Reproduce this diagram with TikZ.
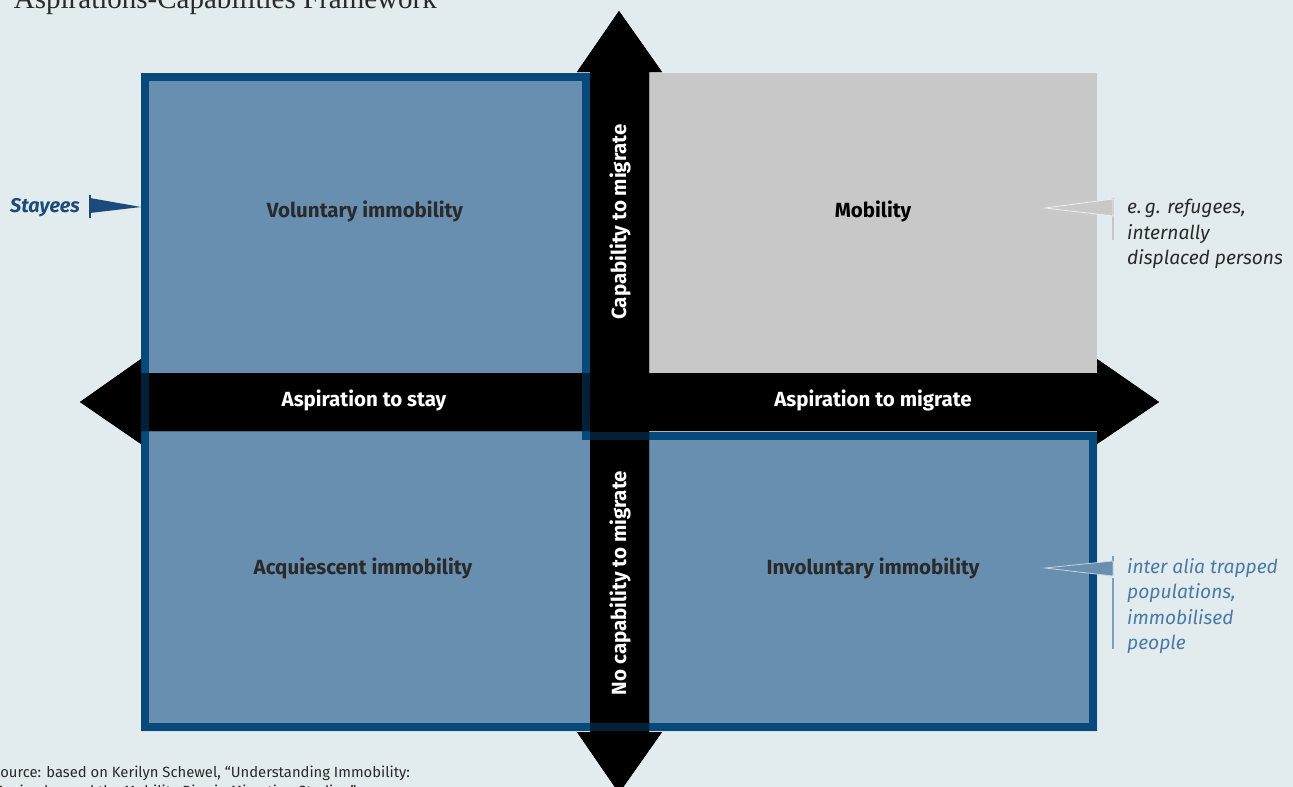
\documentclass[tikz,border=0pt]{standalone}
\usepackage{fontspec}
\setmainfont{Fira Sans}
\newfontfamily\titlefont{Liberation Serif}
\definecolor{bgcol}{HTML}{E2EBEE}
\definecolor{qblue}{HTML}{688FB0}
\definecolor{qline}{HTML}{08497B}
\definecolor{qgrey}{HTML}{C8C8C8}
\definecolor{txtdark}{HTML}{2A2A2A}
\definecolor{stayblue}{HTML}{1A4B7A}
\definecolor{steeltxt}{HTML}{4A7AA5}
\newcommand\harrowpath[1]{\path[#1] (80,402) -- (141,359) -- (141,373) -- (1097,373) -- (1097,359) -- (1159,402) -- (1097,444) -- (1097,431) -- (141,431) -- (141,444) -- cycle;}
\newcommand\varrowpath[1]{\path[#1] (619,11) -- (662,72) -- (649,72) -- (649,732) -- (662,732) -- (619,793) -- (577,732) -- (590,732) -- (590,72) -- (577,72) -- cycle;}
\newcommand\outlinepath[1]{\path[#1] (145,77) -- (586,77) -- (586,436) -- (1093,436) -- (1093,727) -- (145,727) -- cycle;}
\begin{document}
\begin{tikzpicture}[x=1pt,y=-1pt,
  quad/.style={font=\fontsize{20.5}{24}\selectfont\bfseries, text=txtdark},
  axis/.style={font=\fontsize{20.5}{24}\selectfont\bfseries, text=white},
  note/.style={font=\fontsize{19.2}{25.5}\selectfont\itshape, align=left, anchor=north west, inner sep=0pt}]
\useasboundingbox (0,0) rectangle (1293,787);
\fill[bgcol] (0,0) rectangle (1293,787);
% quadrant fills
\fill[qblue] (141,73) -- (590,73) -- (590,432) -- (1097,432) -- (1097,731) -- (141,731) -- cycle;
\fill[qgrey] (649,73) rectangle (1097,373);
% arrows
\harrowpath{fill=black}
\varrowpath{fill=black}
% outline
\outlinepath{draw=qline, line width=8pt, line join=miter}
\begin{scope}
  \harrowpath{clip}
  \fill[black] (0,0) rectangle (1293,787);
  \outlinepath{draw=qline, line width=8pt, opacity=0.45}
\end{scope}
\begin{scope}
  \varrowpath{clip}
  \fill[black] (0,0) rectangle (1293,787);
  \outlinepath{draw=qline, line width=8pt, opacity=0.45}
\end{scope}
% quadrant labels
\node[quad] (vol) at (365,211) {Voluntary immobility};
\node[quad, text=black] (mob) at (873,211) {Mobility};
\node[quad] (acq) at (363,568) {Acquiescent immobility};
\node[quad] (inv) at (873,568) {Involuntary immobility};
% axis labels
\node[axis] (stay) at (364,400) {Aspiration to stay};
\node[axis] (migr) at (873,400) {Aspiration to migrate};
\node[axis, rotate=90] (cap) at (620,222) {Capability to migrate};
\node[axis, rotate=90] (nocap) at (620,583) {No capability to migrate};
% Stayees flag
\node[font=\fontsize{19.8}{22}\selectfont\bfseries\itshape, text=stayblue, anchor=base west, inner sep=0pt] (stayees) at (10,212) {Stayees};
\draw[stayblue, line width=2pt] (90,195) -- (90,218);
\fill[stayblue] (90,198) -- (141,207) -- (90,213) -- cycle;
% grey flag
\draw[qgrey, line width=2.5pt] (1113,198) -- (1113,240);
\filldraw[fill=qgrey, draw=white!70!qgrey, line width=0.8pt] (1113,199) -- (1045,208) -- (1113,216) -- cycle;
\node[note, text=txtdark] (eg) at (1127,199) {e.\,g. refugees,\\internally\\displaced persons};
% blue flag
\draw[qblue!85!white, line width=2.5pt] (1113,556) -- (1113,561);
\draw[qblue!85!white, line width=2.5pt] (1113,578) -- (1113,649);
\filldraw[fill=qblue, draw=white!60!qblue, line width=0.8pt] (1113,561) -- (1045,568) -- (1113,576) -- cycle;
\node[note, text=steeltxt] (ia) at (1127,558) {inter alia trapped\\populations,\\immobilised\\people};
% title and source
\node[font=\fontsize{29}{32}\selectfont\titlefont, text=txtdark, anchor=base east, inner sep=0pt] (title) at (437,9) {Aspirations-Capabilities Framework};
\node[font=\fontsize{14.8}{19}\selectfont, text=txtdark, anchor=base west, inner sep=0pt, align=left] (src) at (-8,796) {Source: based on Kerilyn Schewel, “Understanding Immobility:\\Moving beyond the Mobility Bias in Migration Studies,”};
\end{tikzpicture}
\end{document}
